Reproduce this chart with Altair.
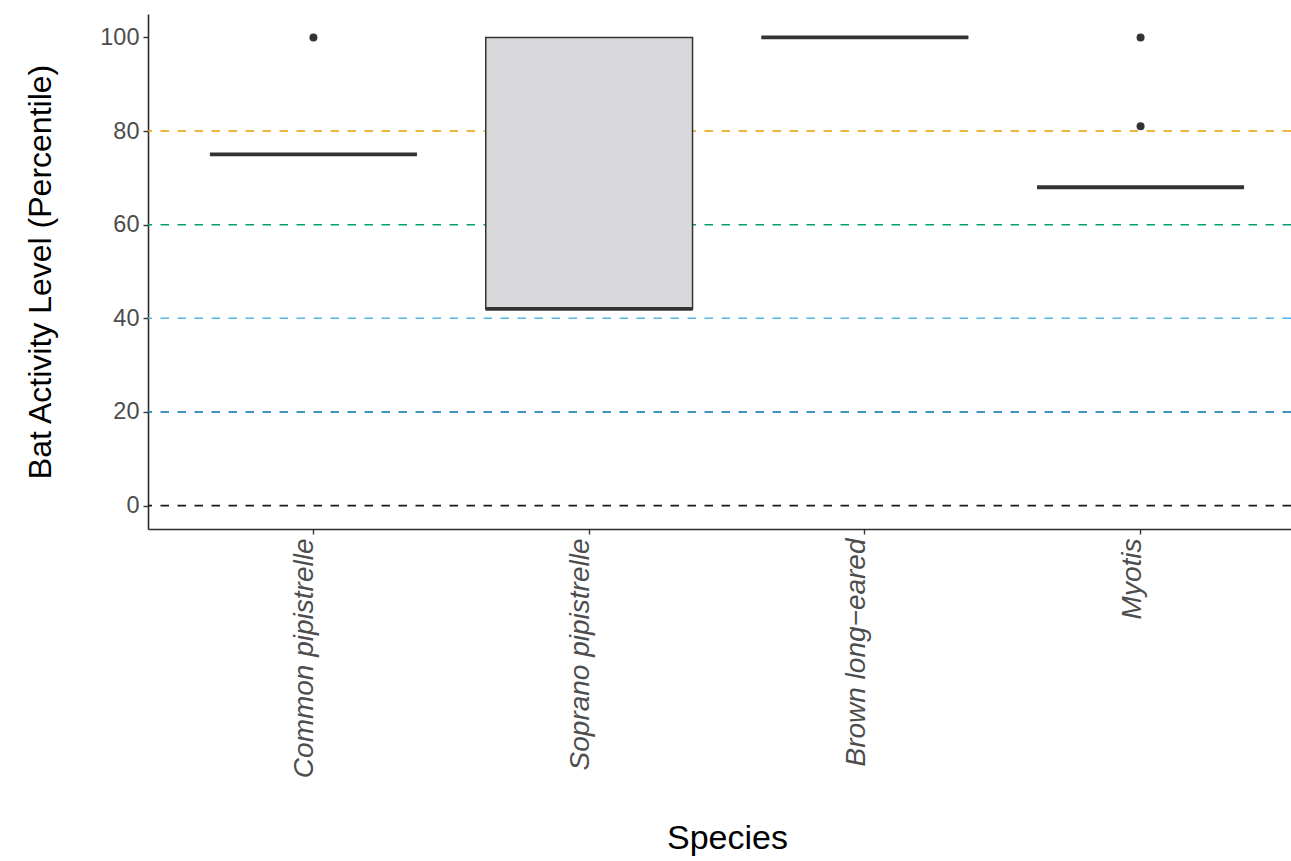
import altair as alt
import pandas as pd

# Box summaries per species (percentile of bat activity)
species = ["Common pipistrelle", "Soprano pipistrelle", "Brown long\u2212eared", "Myotis"]
lower = [75, 42, 100, 68]
q1 = [75, 42, 100, 68]
median = [75, 42, 100, 68]
q3 = [75, 100, 100, 68]
upper = [75, 100, 100, 68]

# Outlying observations
outlier_species = ["Common pipistrelle", "Myotis", "Myotis"]
outlier_values = [100, 100, 81]

# Reference thresholds
ref_levels = [0, 20, 40, 60, 80]
ref_colors = ["#1a1a1a", "#0072B2", "#56B4E9", "#009E73", "#E69F00"]

boxes = pd.DataFrame({"Species": species, "lower": lower, "q1": q1,
                      "median": median, "q3": q3, "upper": upper})
outliers = pd.DataFrame({"Species": outlier_species, "value": outlier_values})
refs = pd.DataFrame({"level": ref_levels, "color": ref_colors})

FONT = "Liberation Sans"
INK = "#333333"

x_enc = alt.X(
    "Species:N",
    sort=species,
    title="Species",
    scale=alt.Scale(type="band", range=[0, 1158], paddingInner=0, paddingOuter=0.1),
    axis=alt.Axis(
        labelAngle=270, labelAlign="right", labelBaseline="alphabetic",
        labelFontStyle="italic", labelFontSize=28, labelColor="#4D4D4D",
        labelPadding=4, labelLimit=0, titleFontSize=34,
        titleX=579, titleY=319, titleBaseline="alphabetic",
        titleColor="#000000", titleFontWeight="normal",
    ),
)
y_scale = alt.Scale(domain=[-5, 105], nice=False, zero=False)
y_axis = alt.Axis(
    values=[0, 20, 40, 60, 80, 100], labelFontSize=23.5, labelColor="#4D4D4D",
    labelPadding=4, title="Bat Activity Level (Percentile)", titleFontSize=32,
    titlePadding=42, titleColor="#000000", titleFontWeight="normal",
)

rules = alt.Chart(refs).mark_rule(strokeDash=[8.5, 8.5], strokeWidth=1.6).encode(
    y=alt.Y("level:Q", scale=y_scale, axis=y_axis),
    color=alt.Color("color:N", scale=None),
)

whisk_lo = alt.Chart(boxes).mark_rule(color=INK, strokeWidth=1.2).encode(
    x=x_enc, y=alt.Y("lower:Q", scale=y_scale), y2="q1:Q"
)
whisk_hi = alt.Chart(boxes).mark_rule(color=INK, strokeWidth=1.2).encode(
    x=x_enc, y=alt.Y("q3:Q", scale=y_scale), y2="upper:Q"
)

box = alt.Chart(boxes).mark_bar(
    width=alt.RelativeBandSize(0.75), fill="#D9D9DB", stroke=INK, strokeWidth=1.5
).encode(x=x_enc, y=alt.Y("q1:Q", scale=y_scale), y2="q3:Q")

med = alt.Chart(boxes).mark_tick(size=207, thickness=3.8, color=INK, opacity=1).encode(
    x=x_enc, y=alt.Y("median:Q", scale=y_scale)
)

pts = alt.Chart(outliers).mark_circle(size=64, color=INK, opacity=1).encode(
    x=x_enc, y=alt.Y("value:Q", scale=y_scale)
)

chart = (
    alt.layer(rules, whisk_lo, whisk_hi, box, med, pts)
    .properties(
        width=1143, height=515,
        autosize=alt.AutoSizeParams(type="none"),
        padding={"left": 148, "top": 14, "right": 0, "bottom": 332},
        background="white",
    )
    .configure_view(stroke=None)
    .configure_axis(
        grid=False, domainColor="#2b2b2b", domainWidth=1.6, tickColor=INK,
        tickWidth=1.4, tickSize=5, labelFont=FONT, titleFont=FONT,
    )
)

chart.save("out.html", embed_options={"renderer": "svg", "actions": False})
